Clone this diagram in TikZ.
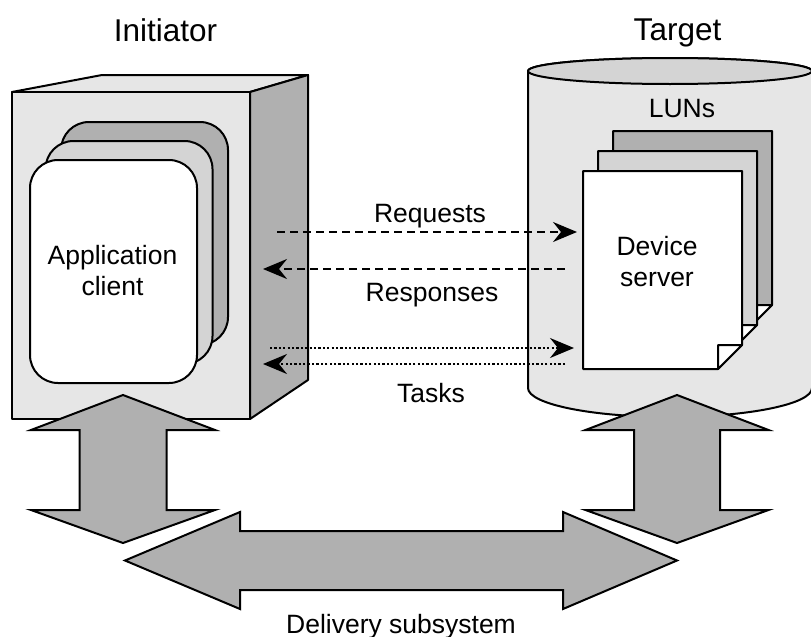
\documentclass[tikz,border=0pt]{standalone}
\usepackage{fontspec}
\setmainfont{Liberation Sans}
\usetikzlibrary{arrows.meta}
\definecolor{lightg}{HTML}{E6E6E6}
\definecolor{midg}{HTML}{D4D4D4}
\definecolor{darkg}{HTML}{B0B0B0}
\begin{document}
\begin{tikzpicture}[x=1pt,y=-1pt, line join=round,
  outline/.style={draw=black, line width=2pt},
  lbl/.style={font=\fontsize{26.5}{31}\selectfont, inner sep=0pt, align=center},
  ttl/.style={font=\fontsize{31.5}{36}\selectfont, inner sep=0pt},
  head/.style={-{Stealth[length=24pt,width=20pt,inset=8pt]}},
  msg/.style={line width=2.2pt, dash pattern=on 8pt off 5pt, head},
  tsk/.style={line width=2.2pt, dash pattern=on 2.2pt off 2.2pt, head},
  bigarrow/.style={draw=black, line width=2pt, fill=darkg, line join=miter}]
\useasboundingbox (0,0) rectangle (811,637);
\clip (0,0) rectangle (811,637);

% Initiator cube
\draw[outline, fill=lightg] (12,92) -- (102,75) -- (308,75) -- (250,92) -- cycle;
\draw[outline, fill=lightg] (12,92) rectangle (250,419);
\draw[outline, fill=darkg] (250,92) -- (308,75) -- (308,380) -- (250,419) -- cycle;

% application client stack
\draw[outline, fill=darkg, rounded corners=28pt] (61,122) rectangle (228,345);
\draw[outline, fill=midg, rounded corners=28pt] (45.5,141) rectangle (212.5,364);
\draw[outline, fill=white, rounded corners=28pt] (30,160) rectangle (197,383);

% Target cylinder
\draw[outline, fill=lightg] (528,71) -- (528,388)
  arc[start angle=180, end angle=0, x radius=142, y radius=29]
  -- (812,71) arc[start angle=0, end angle=-180, x radius=142, y radius=13] -- cycle;
\draw[outline, fill=midg] (670,71) ellipse[x radius=142, y radius=13];

% LUN pages
\foreach \dx/\dy/\col in {30/-40/darkg, 15/-20/midg, 0/0/white} {
  \begin{scope}[shift={(\dx,\dy)}]
    \draw[outline, fill=\col] (583,171) -- (742,171) -- (742,345) -- (718,369) -- (583,369) -- cycle;
    \draw[outline, fill=white] (718,369) -- (718,345) -- (742,345) -- cycle;
  \end{scope}
}

% message arrows
\coordinate (rqS) at (277,232); \coordinate (rqE) at (577,232);
\coordinate (rsS) at (565,269); \coordinate (rsE) at (263,269);
\coordinate (t1S) at (270,348); \coordinate (t1E) at (574,348);
\coordinate (t2S) at (565,364); \coordinate (t2E) at (263,364);
\draw[msg] (rqS) -- (rqE);
\draw[msg] (rsS) -- (rsE);
\draw[tsk] (t1S) -- (t1E);
\draw[tsk] (t2S) -- (t2E);

% big arrows
\draw[bigarrow] (123,395) -- (215,430) -- (166.5,430) -- (166.5,510) -- (215,510) -- (123,543)
  -- (31,510) -- (79.5,510) -- (79.5,430) -- (31,430) -- cycle;
\draw[bigarrow] (677,395) -- (768.5,430) -- (720,430) -- (720,510) -- (768.5,510) -- (677,543)
  -- (585.5,510) -- (634,510) -- (634,430) -- (585.5,430) -- cycle;
\draw[bigarrow] (125,560.5) -- (240,512) -- (240,531) -- (563,531) -- (563,512) -- (677,560.5)
  -- (563,609) -- (563,590) -- (240,590) -- (240,609) -- cycle;

% labels
\node[ttl, anchor=base] (init) at (165.5,41) {Initiator};
\node[ttl, anchor=base] (targ) at (677.5,40) {Target};
\node[lbl, anchor=base] (luns) at (682,117) {LUNs};
\node[lbl] (app) at (112.5,271) {Application\\client};
\node[lbl] (dev) at (657,262) {Device\\server};
\node[lbl, anchor=base] (req) at (430,222) {Requests};
\node[lbl, anchor=base] (resp) at (432,301) {Responses};
\node[lbl, anchor=base] (tasks) at (431,402) {Tasks};
\node[lbl, anchor=base] (deliv) at (401,633) {Delivery subsystem};
\end{tikzpicture}
\end{document}
